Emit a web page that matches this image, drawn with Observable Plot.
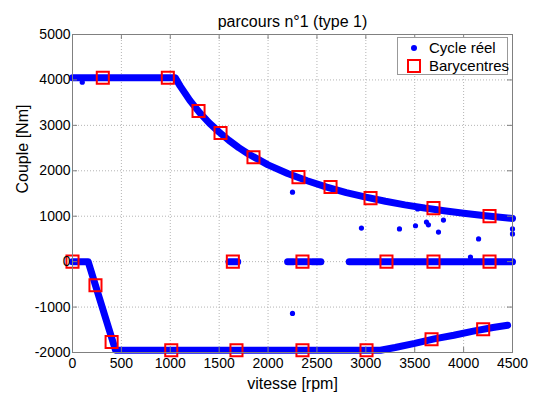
<!DOCTYPE html>
<html><head><meta charset="utf-8">
<script src="https://cdn.jsdelivr.net/npm/d3@7"></script>
<script src="https://cdn.jsdelivr.net/npm/@observablehq/plot@0.6"></script>
<style>
body{margin:0;background:#fff;font-family:"Liberation Sans",Arial,sans-serif}
#wrap{position:relative;width:534px;height:397px}
#legend{position:absolute;left:397px;top:37px;width:111px;height:38px;border:1px solid #999;background:#fff;box-sizing:border-box;font-size:15px;color:#000}
.row{position:absolute;left:0;height:18px;line-height:18px}
.lab{position:absolute;left:31px;white-space:nowrap}
.dot{position:absolute;left:13px;top:6px;width:6px;height:6px;border-radius:3px;background:#0000ff}
.sq{position:absolute;left:9px;top:2px;width:10px;height:10px;border:2px solid #ff0000}
</style>
</head><body>
<div id="wrap"><div id="legend">
<div class="row" style="top:1px;width:100%"><div class="dot"></div><div class="lab">Cycle réel</div></div>
<div class="row" style="top:19px;width:100%"><div class="sq"></div><div class="lab">Barycentres</div></div>
</div></div>
<script>
const title = "parcours n°1 (type 1)";
const xLabel = "vitesse [rpm]";
const yLabel = "Couple [Nm]";
const xTicks = [0, 500, 1000, 1500, 2000, 2500, 3000, 3500, 4000, 4500];
const yTicks = [-2000, -1000, 0, 1000, 2000, 3000, 4000, 5000];

// Cycle réel: upper envelope (full torque)
const upperRpm = [0, 1050, 1100, 1200, 1300, 1400, 1500, 1600, 1700, 1800, 2000, 2200, 2400, 2600, 2800, 3000, 3200, 3400, 3600, 3800, 4000, 4200, 4500];
const upperNm  = [4050, 4050, 3870, 3550, 3280, 3050, 2850, 2670, 2510, 2370, 2130, 1940, 1780, 1640, 1520, 1420, 1330, 1250, 1180, 1120, 1065, 1015, 950];
// Cycle réel: lower envelope (braking)
const lowerRpm = [0, 160, 440, 3150, 3300, 3500, 3700, 3900, 4100, 4300, 4450];
const lowerNm  = [0, 0, -1950, -1950, -1890, -1800, -1700, -1620, -1530, -1450, -1400];
// Cycle réel: zero-torque segments
const zeroStart = [1600, 2200, 2290, 2450, 2830];
const zeroEnd   = [1690, 2260, 2420, 2540, 4500];
const zeroNm    = [0, 0, 0, 0, 0];
// Cycle réel: isolated points
const outRpm = [100, 2250, 2250, 2955, 3344, 3508, 3530, 3620, 3640, 3743, 3794, 4070, 4153, 4500, 4500];
const outNm  = [3950, 1530, -1140, 740, 720, 790, 1160, 870, 810, 650, 915, 100, 500, 720, 610];
// Barycentres
const baryRpm = [0, 235, 400, 310, 975, 1010, 1289, 1514, 1640, 1677, 1851, 2311, 2352, 2352, 2639, 3007, 3048, 3211, 3672, 3692, 3692, 4200, 4265, 4265];
const baryNm  = [0, -520, -1770, 4050, 4050, -1950, 3315, 2830, 0, -1950, 2300, 1861, 0, -1950, 1641, -1950, 1398, 0, -1710, 1178, 0, -1490, 1002, 0];

const upper = upperRpm.map((x, i) => ({x, y: upperNm[i]}));
const lower = lowerRpm.map((x, i) => ({x, y: lowerNm[i]}));
const zeros = zeroStart.map((x1, i) => ({x1, x2: zeroEnd[i], y: zeroNm[i]}));
const outs = outRpm.map((x, i) => ({x, y: outNm[i]}));
const bary = baryRpm.map((x, i) => ({x, y: baryNm[i]}));

const BLUE = "#0000ff", RED = "#ff0000", GRID = "#b4b4b4", AX = "#808080";
const band = {stroke: BLUE, strokeWidth: 7, strokeLinecap: "round", strokeLinejoin: "round"};
const fmt = d => String(d);

const chart = Plot.plot({
  width: 534, height: 397,
  marginLeft: 72, marginRight: 22, marginTop: 34, marginBottom: 45,
  style: {fontFamily: '"Liberation Sans", Arial, sans-serif', fontSize: "14px", color: "#000", background: "#fff"},
  x: {domain: [0, 4500], axis: null},
  y: {domain: [-2000, 5000], axis: null},
  marks: [
    Plot.gridX(xTicks, {stroke: GRID, strokeOpacity: 1, strokeDasharray: "1,2"}),
    Plot.gridY(yTicks, {stroke: GRID, strokeOpacity: 1, strokeDasharray: "1,2"}),
    Plot.line(upper, {x: "x", y: "y", ...band}),
    Plot.line(lower, {x: "x", y: "y", ...band}),
    Plot.link(zeros, {x1: "x1", x2: "x2", y1: "y", y2: "y", ...band}),
    Plot.dot(outs, {x: "x", y: "y", r: 2.6, fill: BLUE}),
    Plot.dot(bary, {x: "x", y: "y", symbol: "square", r: 6.8, stroke: RED, strokeWidth: 2, fill: "none"}),
    Plot.frame({stroke: AX}),
    Plot.ruleX(xTicks, {x: d => d, insetTop: 313, stroke: AX}),
    Plot.ruleX(xTicks, {x: d => d, insetBottom: 313, stroke: AX}),
    Plot.ruleY(yTicks, {y: d => d, insetRight: 435, stroke: AX}),
    Plot.ruleY(yTicks, {y: d => d, insetLeft: 435, stroke: AX}),
    Plot.axisX(xTicks, {tickSize: 0, tickPadding: 6, fontSize: 14, label: null, tickFormat: fmt}),
    Plot.axisY(yTicks, {tickSize: 0, tickPadding: 2, fontSize: 14, label: null, tickFormat: fmt}),
    Plot.text([title], {frameAnchor: "top", dy: -8, lineAnchor: "bottom", fontSize: 16, text: d => d}),
    Plot.text([xLabel], {frameAnchor: "bottom", dy: 31, lineAnchor: "middle", fontSize: 16, text: d => d}),
    Plot.text([yLabel], {frameAnchor: "left", dx: -50, rotate: -90, lineAnchor: "middle", fontSize: 16, text: d => d})
  ]
});
document.getElementById("wrap").prepend(chart);
</script>
</body></html>
